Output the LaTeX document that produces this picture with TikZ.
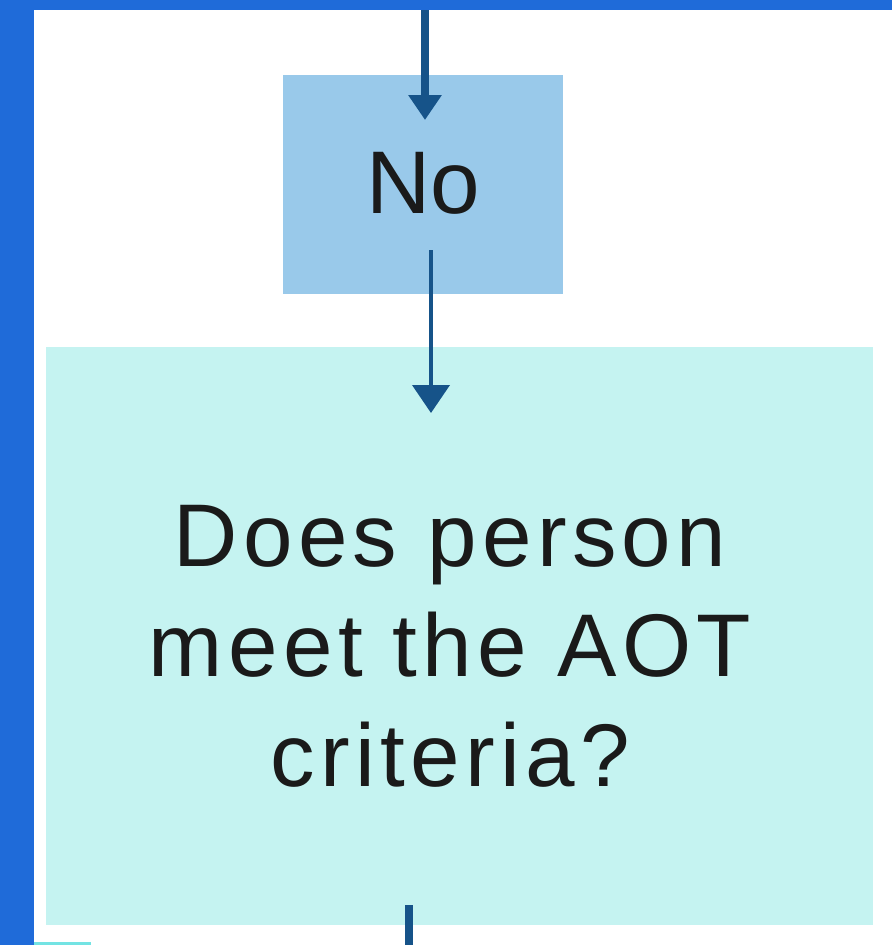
\documentclass[tikz,border=0pt]{standalone}
\usepackage{fontspec}
\setmainfont{Liberation Sans}
\newfontfamily\labelfont[LetterSpace=6]{Liberation Sans}
\newfontfamily\shortfont{Liberation Sans}
\usetikzlibrary{arrows.meta}

\definecolor{framebl}{HTML}{1F6BD9}
\definecolor{nofill}{HTML}{99C9EA}
\definecolor{qfill}{HTML}{C5F3F1}
\definecolor{flowbl}{HTML}{165389}
\definecolor{stripcy}{HTML}{73E3E3}
\definecolor{inkc}{HTML}{1A1A1A}

\tikzset{
  boxbase/.style={rectangle, draw=none, inner sep=0pt, outer sep=0pt},
  nobox/.style={boxbase, fill=nofill, minimum width=280pt, minimum height=219pt},
  qbox/.style={boxbase, fill=qfill, minimum width=827pt, minimum height=578pt},
  boxtext/.style={inner sep=0pt, outer sep=0pt, text=inkc, align=center,
    font=\labelfont\fontsize{89}{110}\selectfont},
  flow/.style={draw=flowbl},
}

\begin{document}
\begin{tikzpicture}[x=1pt,y=-1pt]
  \useasboundingbox (0,0) rectangle (892,945);

  % page frame: top rule and left rule
  \fill[framebl] (0,0) rectangle (892,10);
  \fill[framebl] (0,0) rectangle (34,945);
  \fill[stripcy] (34,942) rectangle (91,945);

  % decision boxes
  \node[nobox] (no) at (423,184.5) {};
  \node[qbox]  (q)  at (459.5,636) {};

  % labels
  \node[boxtext, anchor=base, font=\shortfont\fontsize{89}{110}\selectfont]
    (notext) at (423,213) {No};
  \node[boxtext, anchor=center] (qtext) at (450,646)
    {Does person\\meet the AOT\\criteria?};

  % connectors
  \coordinate (topin)   at (425,10);
  \coordinate (notip)   at (425,120);
  \coordinate (nostart) at (431,250);
  \coordinate (qtip)    at (431,413);
  \coordinate (qout)    at (409,905);
  \coordinate (pageend) at (409,945);

  \draw[flow, line width=8pt, -{Triangle[width=32pt,length=25pt]}] (topin) -- (notip);
  \draw[flow, line width=4pt, -{Triangle[width=37pt,length=28pt]}] (nostart) -- (qtip);
  \draw[flow, line width=8pt] (qout) -- (pageend);
\end{tikzpicture}
\end{document}
